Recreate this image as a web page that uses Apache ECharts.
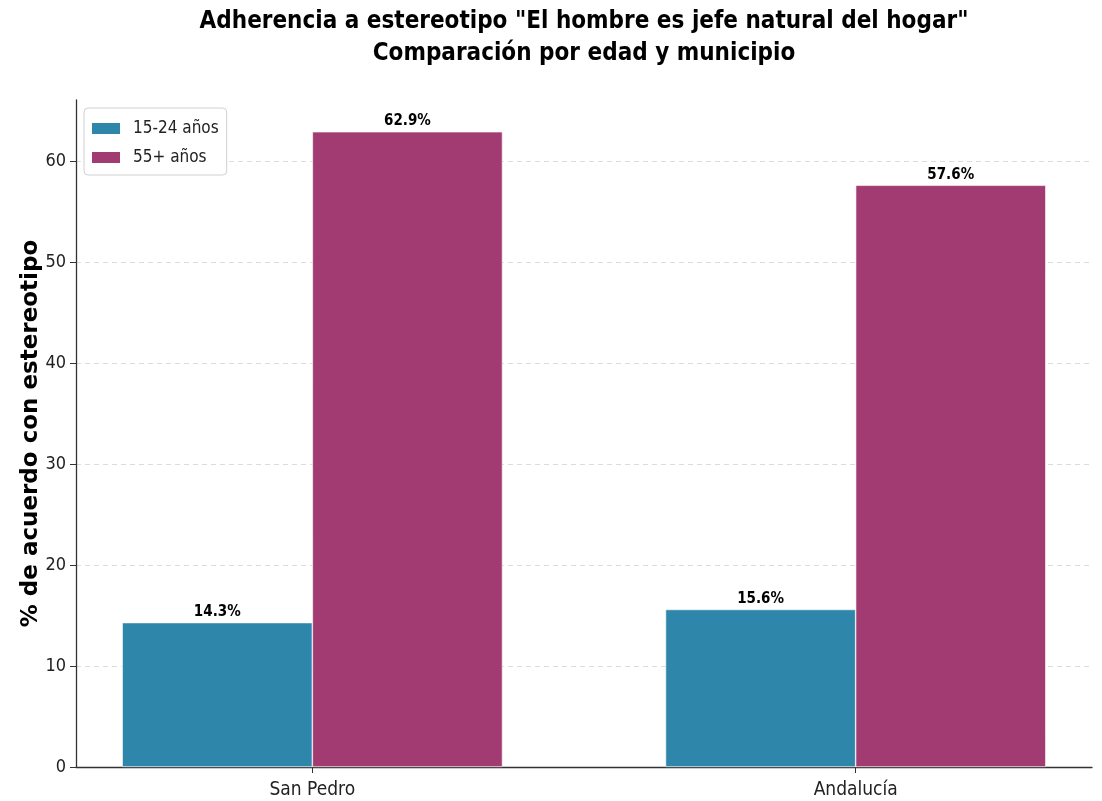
<!DOCTYPE html>
<html>
<head>
<meta charset="utf-8">
<script src="https://cdn.jsdelivr.net/npm/echarts@6/dist/echarts.min.js"></script>
<style>
  html, body { margin: 0; padding: 0; background: #fff; }
  #chart { width: 1102px; height: 801px; }
</style>
</head>
<body>
<div id="chart"></div>
<script>
  // datos
  var municipios = ['San Pedro', 'Andalucía']
  var grupos = ['15-24 años', '55+ años']
  var jovenes = [14.3, 15.6]
  var mayores = [62.9, 57.6]
  var ticksY = [0, 10, 20, 30, 40, 50, 60]
  var colores = ['#2E86AB', '#A23B72']
  var ancho = 0.35

  var chart = echarts.init(document.getElementById('chart'))

  function puntos(vals, desplazamiento) {
    return vals.map(function (v, i) { return [i + desplazamiento, v] })
  }

  var labelStyle = {
    show: true,
    position: 'top',
    distance: 3,
    fontFamily: 'DejaVu Sans Condensed',
    fontWeight: 'bold',
    fontSize: 15,
    color: '#000',
    formatter: function (p) { return p.value[1].toFixed(1) + '%' }
  }

  var xMin = -ancho - 0.05 * (1 + 2 * ancho)
  var xMax = 1 + ancho + 0.05 * (1 + 2 * ancho)
  var gridLeft = 76, gridRight = 10
  var pxPorUnidad = (1102 - gridLeft - gridRight) / (xMax - xMin)
  // el titulo va centrado sobre el area de dibujo, no sobre la figura
  var centroEjes = gridLeft + (1102 - gridLeft - gridRight) / 2

  chart.setOption({
    animation: false,
    graphic: [{
      type: 'text',
      x: centroEjes,
      y: 6,
      style: {
        text: 'Adherencia a estereotipo "El hombre es jefe natural del hogar"\nComparación por edad y municipio',
        textAlign: 'center',
        textVerticalAlign: 'top',
        fontFamily: 'DejaVu Sans Condensed',
        fontWeight: 'bold',
        fontSize: 24,
        lineHeight: 32,
        fill: '#000'
      }
    }],
    legend: {
      orient: 'vertical',
      left: 84,
      top: 108,
      padding: [12, 8, 9, 6],
      itemWidth: 30,
      itemHeight: 13,
      itemGap: 12,
      icon: 'rect',
      borderColor: '#d0d0d0',
      borderWidth: 1,
      borderRadius: 4,
      backgroundColor: '#fff',
      data: grupos,
      formatter: function (n) { return '{t|' + n + '}' },
      textStyle: {
        fontFamily: 'DejaVu Sans Condensed',
        fontSize: 17,
        color: '#222',
        rich: {
          t: {
            fontFamily: 'DejaVu Sans Condensed',
            fontSize: 17,
            color: '#222',
            padding: [0, 0, 0, 7]
          }
        }
      }
    },
    grid: {
      left: gridLeft,
      right: gridRight,
      top: 100,
      bottom: 34
    },
    xAxis: {
      type: 'value',
      min: xMin,
      max: xMax,
      splitLine: { show: false },
      axisLine: { show: true, onZero: false, lineStyle: { color: '#333', width: 1.3 } },
      axisTick: { show: true, customValues: [0, 1], length: 6, lineStyle: { color: '#333' } },
      axisLabel: {
        customValues: [0, 1],
        fontFamily: 'DejaVu Sans Condensed',
        fontSize: 19,
        color: '#222',
        margin: 14,
        formatter: function (v) { return municipios[Math.round(v)] }
      }
    },
    yAxis: {
      type: 'value',
      min: 0,
      max: 62.9 * 1.05,
      interval: 10,
      name: '% de acuerdo con estereotipo',
      nameLocation: 'middle',
      nameGap: 33,
      nameMoveOverlap: false,
      nameTextStyle: {
        fontFamily: 'DejaVu Sans',
        fontWeight: 'bold',
        fontSize: 23,
        color: '#000'
      },
      axisLine: { show: true, onZero: false, lineStyle: { color: '#333', width: 1.3 } },
      axisTick: { show: true, customValues: ticksY, length: 6, lineStyle: { color: '#333' } },
      axisLabel: {
        customValues: ticksY,
        fontFamily: 'DejaVu Sans Condensed',
        fontSize: 18,
        color: '#222',
        margin: 10
      },
      splitLine: {
        show: true,
        showMinLine: false,
        lineStyle: { color: '#dcdcdc', type: [5, 4], width: 1 }
      }
    },
    series: [
      {
        name: grupos[0],
        type: 'bar',
        data: puntos(jovenes, -ancho / 2),
        barWidth: ancho * pxPorUnidad,
        barGap: '-100%',
        itemStyle: { color: colores[0], borderColor: '#fff', borderWidth: 0.6 },
        label: labelStyle
      },
      {
        name: grupos[1],
        type: 'bar',
        data: puntos(mayores, ancho / 2),
        barWidth: ancho * pxPorUnidad,
        barGap: '-100%',
        itemStyle: { color: colores[1], borderColor: '#fff', borderWidth: 0.6 },
        label: labelStyle
      }
    ]
  })
</script>
</body>
</html>
